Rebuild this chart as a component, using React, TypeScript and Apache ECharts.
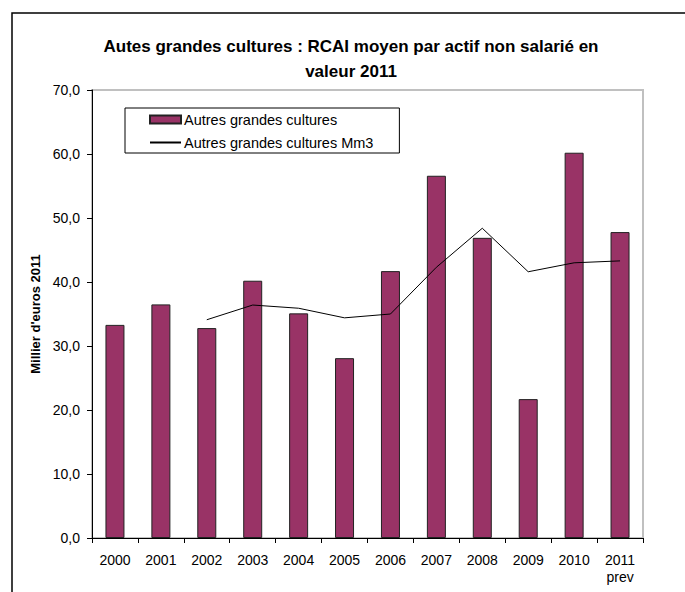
import React, { useEffect, useRef } from "react";
import * as echarts from "echarts";

const categories = ["2000", "2001", "2002", "2003", "2004", "2005", "2006", "2007", "2008", "2009", "2010", "2011\nprev"];
const barValues = [33.3, 36.5, 32.8, 40.2, 35.1, 28.1, 41.7, 56.6, 46.9, 21.7, 60.2, 47.8];
const lineValues = [null, null, 34.1, 36.4, 35.9, 34.4, 35.0, 42.3, 48.4, 41.6, 43.0, 43.3];
const barName = "Autres grandes cultures";
const lineName = "Autres grandes cultures Mm3";
const titleText = "Autes grandes cultures : RCAI moyen par actif non salarié en\nvaleur 2011";
const yAxisName = "Millier d'euros 2011";

const FONT = "'Liberation Sans', Arial, sans-serif";

export default function App() {
  const ref = useRef<HTMLDivElement>(null);
  useEffect(() => {
    document.body.style.margin = "0";
    const chart = echarts.init(ref.current!, null, { renderer: "svg" });
    chart.setOption({
      animation: false,
      backgroundColor: "#fff",
      textStyle: { fontFamily: FONT },
      title: {
        text: titleText,
        left: 346,
        top: 29,
        textAlign: "center",
        textStyle: { fontFamily: FONT, fontSize: 17, fontWeight: "bold", color: "#000", lineHeight: 25 },
      },
      graphic: [
        {
          type: "rect",
          shape: { x: 12, y: 13, width: 690, height: 620 },
          style: { fill: "none", stroke: "#000", lineWidth: 1.5 },
          silent: true,
        },
      ],
      legend: {
        orient: "vertical",
        left: 125,
        top: 108,
        padding: [4, 26, 3, 24],
        borderColor: "#000",
        borderWidth: 1,
        itemWidth: 31,
        itemHeight: 8,
        itemGap: 8,
        textStyle: { fontFamily: FONT, fontSize: 14.5, lineHeight: 15, color: "#000", padding: [0, 0, 0, -2] },
        data: [
          { name: barName, icon: "rect" },
          { name: lineName, itemStyle: { opacity: 0 } },
        ],
      },
      grid: {
        left: 92,
        right: 42,
        top: 90,
        bottom: 54,
        show: true,
        borderColor: "#c0c0c0",
        borderWidth: 2,
        backgroundColor: "transparent",
      },
      xAxis: {
        type: "category",
        data: categories,
        axisLine: { lineStyle: { color: "#000", width: 1 } },
        axisTick: { show: true, length: 5, lineStyle: { color: "#000" } },
        axisLabel: { fontFamily: FONT, fontSize: 14, color: "#000", margin: 13, lineHeight: 17, interval: 0 },
      },
      yAxis: {
        type: "value",
        min: 0,
        max: 70,
        interval: 10,
        name: yAxisName,
        nameLocation: "middle",
        nameGap: 48,
        nameTextStyle: { fontFamily: FONT, fontSize: 13, fontWeight: "bold", color: "#000" },
        axisLine: { show: true, lineStyle: { color: "#000", width: 1 } },
        axisTick: { show: true, length: 5, lineStyle: { color: "#000" } },
        splitLine: { show: false },
        axisLabel: {
          fontFamily: FONT,
          fontSize: 14,
          color: "#000",
          margin: 12,
          formatter: (v: number) => v.toFixed(1).replace(".", ","),
        },
      },
      series: [
        {
          name: barName,
          type: "bar",
          data: barValues,
          barWidth: 19,
          itemStyle: { color: "#993366", borderColor: "#222", borderWidth: 1 },
        },
        {
          name: lineName,
          type: "line",
          data: lineValues,
          symbol: "none",
          lineStyle: { color: "#000", width: 1 },
          itemStyle: { color: "#000" },
        },
      ],
    });
    return () => chart.dispose();
  }, []);
  return <div ref={ref} style={{ width: 685, height: 592 }} />;
}
